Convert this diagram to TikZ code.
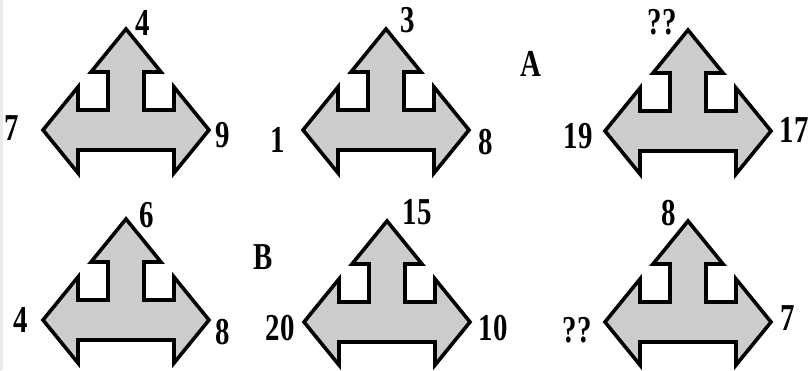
\documentclass[tikz,border=0pt]{standalone}
\usepackage{fontspec}
\setmainfont{Liberation Serif}

\begin{document}
\begin{tikzpicture}[x=1pt,y=-1pt,
	num/.style={font=\fontsize{38}{40}\selectfont\bfseries, inner sep=0pt, xscale=0.76},
	tarrow/.pic={
		\draw[line width=3.6pt, fill=black!20] (0,-101) -- (35,-58) -- (18,-58) -- (18,-20) -- (48,-20) -- (48,-43) -- (83,0)
			-- (48,43) -- (48,20) -- (-48,20) -- (-48,43) -- (-83,0) -- (-48,-43) -- (-48,-20) -- (-18,-20) -- (-18,-58) -- (-35,-58) -- cycle;
	}]
	\useasboundingbox (0,0) rectangle (810,370);
	\fill[black!8] (0,0) rectangle (3,370);
	%top row
	\pic (s1) at (126,130) {tarrow};
	\pic (s2) at (386,130) {tarrow};
	\pic (s3) at (688,131) {tarrow};
	%bottom row
	\pic (s4) at (126,320) {tarrow};
	\pic (s5) at (387,322) {tarrow};
	\pic (s6) at (688,322) {tarrow};
	%numbers
	\node[num] (t1) at (143,23) {4};
	\node[num] (l1) at (12,128) {7};
	\node[num] (r1) at (223,135) {9};
	\node[num] (t2) at (408,20) {3};
	\node[num] (l2) at (278,140) {1};
	\node[num] (r2) at (486,142) {8};
	\node[num] (t3) at (662,22) {??};
	\node[num] (l3) at (578,136) {19};
	\node[num] (r3) at (794,130) {17};
	\node[num] (t4) at (147,215) {6};
	\node[num] (l4) at (21,320) {4};
	\node[num] (r4) at (223,332) {8};
	\node[num] (t5) at (417,212) {15};
	\node[num] (l5) at (280,328) {20};
	\node[num] (r5) at (493,328) {10};
	\node[num] (t6) at (669,213) {8};
	\node[num] (l6) at (577,330) {??};
	\node[num] (r6) at (788,318) {7};
	\node[num] (ga) at (531,64) {A};
	\node[num] (gb) at (263,257) {B};
\end{tikzpicture}
\end{document}
